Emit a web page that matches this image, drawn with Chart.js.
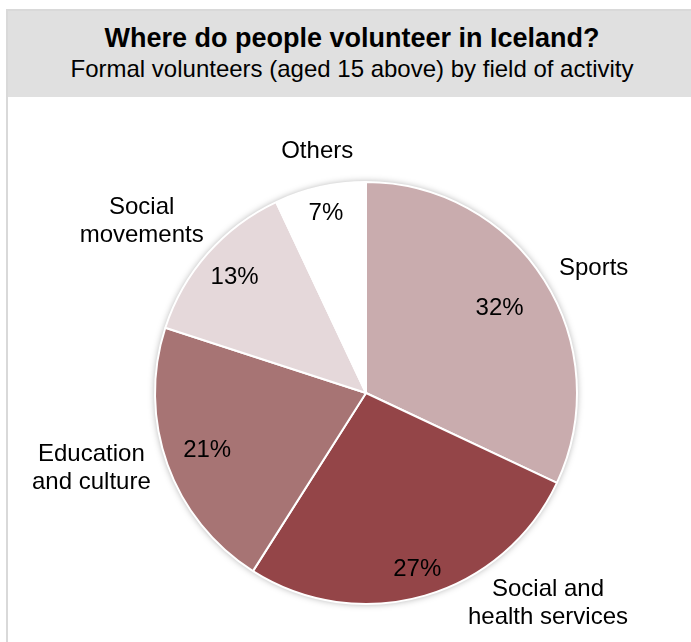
<!DOCTYPE html>
<html>
<head>
<meta charset="utf-8">
<title>Where do people volunteer in Iceland?</title>
<script src="https://cdn.jsdelivr.net/npm/chart.js@4.4.1/dist/chart.umd.min.js"></script>
<style>
  html, body { margin: 0; padding: 0; background: #fff; overflow: hidden; }
  body { width: 691px; height: 642px; position: relative; font-family: "Liberation Sans", Arial, sans-serif; }
  .frame {
    position: absolute; left: 6px; top: 9px; width: 692px; height: 700px;
    border: 2px solid #d9d9d9; box-sizing: border-box;
  }
  .band {
    height: 86px; background: #e0e0e0; text-align: center; color: #000;
  }
  .band h1 { margin: 0; padding-top: 11px; font-size: 27px; font-weight: bold; line-height: 32px; }
  .band p { margin: 0; font-size: 24px; line-height: 30px; }
  #pie { position: absolute; left: 0; top: 0; }
</style>
</head>
<body>
<div class="frame">
  <div class="band">
    <h1>Where do people volunteer in Iceland?</h1>
    <p>Formal volunteers (aged 15 above) by field of activity</p>
  </div>
</div>
<canvas id="pie" width="691" height="642"></canvas>
<script>
// ── data ──────────────────────────────────────────────────────────────────
const categories = ["Sports", "Social and health services", "Education and culture", "Social movements", "Others"];
const labelLines = [["Sports"], ["Social and", "health services"], ["Education", "and culture"], ["Social", "movements"], ["Others"]];
const shares = [32, 27, 21, 13, 7];

// ── style ─────────────────────────────────────────────────────────────────
const sliceColors = ["#c9acae", "#944548", "#a77474", "#e5d8da", "#ffffff"];
// percentage text: fraction of the radius along the slice's middle
const pctReach = [0.75, 0.87, 0.8, 0.83, 0.87];
// category text: degrees turned from the slice middle, fraction of radius
const nameTurn = [3.7, -24.6, 4.4, -3.9, 1.2];
const nameReach = [1.23, 1.32, 1.35, 1.34, 1.17];

const FONT = '24px "Liberation Sans", Arial, sans-serif';
const LINE_H = 28;

function pointAt(arc, angle, dist) {
  return { x: arc.x + Math.cos(angle) * dist, y: arc.y + Math.sin(angle) * dist };
}

// soft glow behind the whole pie
const pieShadow = {
  id: "pieShadow",
  beforeDatasetsDraw(chart) {
    const arc = chart.getDatasetMeta(0).data[0];
    if (!arc) return;
    const { ctx } = chart;
    ctx.save();
    ctx.shadowColor = "rgba(0,0,0,0.35)";
    ctx.shadowBlur = 7;
    ctx.fillStyle = "#ffffff";
    ctx.beginPath();
    ctx.arc(arc.x, arc.y, arc.outerRadius, 0, Math.PI * 2);
    ctx.fill();
    ctx.restore();
  },
};

// percentages inside, category names outside
const sliceLabels = {
  id: "sliceLabels",
  afterDatasetsDraw(chart) {
    const { ctx } = chart;
    const values = chart.data.datasets[0].data;
    const total = values.reduce((a, b) => a + b, 0);
    ctx.save();
    ctx.font = FONT;
    ctx.fillStyle = "#000";
    ctx.textAlign = "center";
    ctx.textBaseline = "middle";
    chart.getDatasetMeta(0).data.forEach((arc, i) => {
      const mid = (arc.startAngle + arc.endAngle) / 2;
      const r = arc.outerRadius;

      const p = pointAt(arc, mid, r * pctReach[i]);
      ctx.fillText(Math.round((values[i] / total) * 100) + "%", p.x, p.y);

      const n = pointAt(arc, mid + (nameTurn[i] * Math.PI) / 180, r * nameReach[i]);
      const lines = labelLines[i];
      const top = n.y - ((lines.length - 1) * LINE_H) / 2;
      lines.forEach((line, k) => ctx.fillText(line, n.x, top + k * LINE_H));
    });
    ctx.restore();
  },
};

new Chart(document.getElementById("pie"), {
  type: "pie",
  data: {
    labels: categories,
    datasets: [
      {
        data: shares,
        backgroundColor: sliceColors,
        borderColor: "#ffffff",
        borderWidth: 2,
      },
    ],
  },
  options: {
    responsive: false,
    animation: false,
    events: [],
    layout: { padding: { left: 154, right: 113, top: 181, bottom: 37 } },
    plugins: {
      legend: { display: false },
      tooltip: { enabled: false },
    },
  },
  plugins: [pieShadow, sliceLabels],
});
</script>
</body>
</html>
